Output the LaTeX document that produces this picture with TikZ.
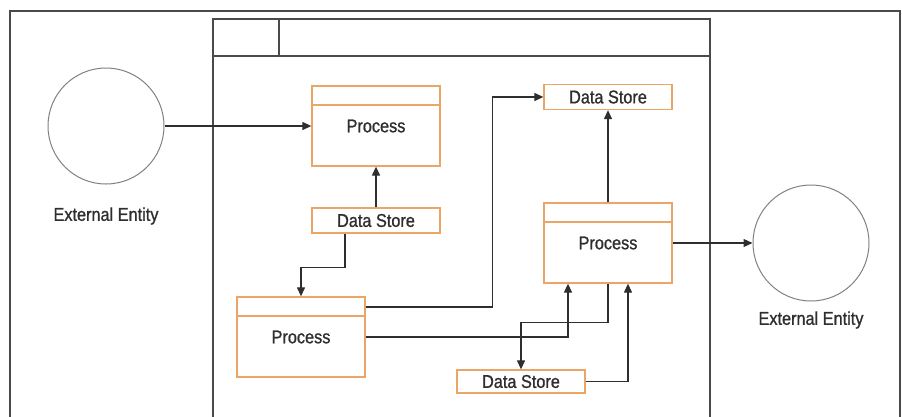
\documentclass[tikz,border=0pt]{standalone}
\usepackage{fontspec}
\setmainfont[FakeStretch=0.88,FakeBold=1]{Liberation Sans}
\usetikzlibrary{arrows.meta}
\definecolor{boxorange}{HTML}{EBA567}
\definecolor{linegray}{HTML}{2E2E2E}
\definecolor{framegray}{HTML}{4A4A4A}
\tikzset{
  proc/.style={draw=boxorange, line width=1.3pt, minimum width=128pt, minimum height=80pt, inner sep=0pt,
    path picture={\draw[draw=boxorange, line width=1.3pt]
      ([yshift=-19pt]path picture bounding box.north west) -- ([yshift=-19pt]path picture bounding box.north east);}},
  store/.style={draw=boxorange, line width=1.3pt, minimum width=128pt, minimum height=25pt, inner sep=0pt},
  entity/.style={draw=gray, line width=1pt, circle, minimum size=116pt, inner sep=0pt},
  flow/.style={draw=linegray, line width=1.2pt, -{Triangle[length=9pt,width=8pt]}}
}
\begin{document}
\begin{tikzpicture}[x=1pt, y=-1pt, font=\fontsize{18.5}{22}\selectfont, text=linegray]
      \useasboundingbox (0,0) rectangle (902,416);
      % frames
      \draw[framegray, line width=2pt] (10,418) -- (10,11) -- (900,11) -- (900,418);
      \draw[framegray, line width=1.4pt] (213,418) -- (213,19) -- (710,19) -- (710,418);
      \draw[framegray, line width=1.4pt] (213,56) -- (710,56);
      \draw[framegray, line width=1.4pt] (279,19) -- (279,56);
      % nodes
      \node[entity] (ee1) at (106,126) {};
      \node (ee1label) at (106,216) {External Entity};
      \node[entity] (ee2) at (811,243) {};
      \node (ee2label) at (811,320) {External Entity};
      \node[proc] (p1) at (376,126) {Process};
      \node[proc] (p2) at (301,337) {Process};
      \node[proc] (p3) at (608,243) {Process};
      \node[store] (ds1) at (376,220.5) {Data Store};
      \node[store] (ds2) at (608,97) {Data Store};
      \node[store, minimum height=23pt] (ds3) at (521,381.5) {Data Store};
      % flows
      \draw[flow] (ee1.east) -- (p1.west);
      \draw[flow] (ds1.north) -- (p1.south);
      \draw[flow] ([xshift=-31pt]ds1.south) -- ++(0,34) -| (p2.north);
      \draw[flow] ([yshift=30pt]p2.east) -- ++(127,0) |- (ds2.west);
      \draw[flow] (p3.north) -- (ds2.south);
      \draw[flow] (p3.east) -- (ee2.west);
      \draw[flow] (p2.east) -| ([xshift=-40pt]p3.south);
      \draw[flow] (p3.south) -- ++(0,39) -| (ds3.north);
      \draw[flow] (ds3.east) -| ([xshift=20pt]p3.south);
    \end{tikzpicture}
\end{document}
